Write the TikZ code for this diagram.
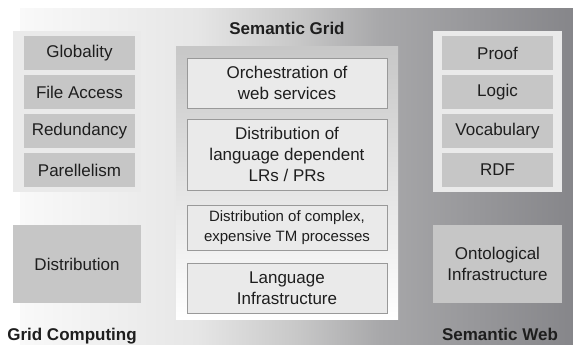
\documentclass[tikz,border=0pt]{standalone}
\usepackage{fontspec}
\setmainfont{Liberation Sans}
\definecolor{bgA}{HTML}{F9F9F9}
\definecolor{bgB}{HTML}{E6E6E6}
\definecolor{bgC}{HTML}{C8C8C8}
\definecolor{bgD}{HTML}{A8A8AA}
\definecolor{bgE}{HTML}{86868A}
\definecolor{cellgray}{HTML}{C6C6C6}
\definecolor{palegray}{HTML}{EAEAEA}
\definecolor{inkgray}{HTML}{1E1E1E}
\pgfdeclarehorizontalshading{bggrad}{100bp}{color(0bp)=(bgA); color(25bp)=(bgA); color(41bp)=(bgB); color(50bp)=(bgC); color(57.5bp)=(bgD); color(75bp)=(bgE); color(100bp)=(bgE)}
\begin{document}
\begin{tikzpicture}[x=1pt,y=-1pt,
  txt/.style={font=\fontsize{17}{21}\selectfont,text=inkgray,align=center,inner sep=0},
  head/.style={txt,font=\fontsize{17}{21}\selectfont\bfseries,anchor=base},
  frame/.style={fill=palegray,inner sep=0},
  cell/.style={txt,fill=cellgray,minimum width=111,minimum height=34},
  task/.style={txt,fill=palegray,draw=black!40,line width=.8pt,minimum width=200}]
\useasboundingbox (0,0) rectangle (573,345);
\shade[shading=bggrad] (20,9) rectangle (573,345);
% grid computing
\node[frame,minimum width=128,minimum height=161] (gcbox) at (77,111.5) {};
\foreach \t [count=\i] in {Globality,File Access,Redundancy,Parellelism}
  \node[cell] (gc\i) at (79.5,14+39*\i) {\t};
\node[cell,minimum width=128,minimum height=78] (dist) at (77,264) {Distribution};
\node[head] (gclbl) at (72,340) {Grid Computing};
% semantic web
\node[frame,minimum width=129,minimum height=161] (swbox) at (497.5,111.5) {};
\foreach \t [count=\i] in {Proof,Logic,Vocabulary,RDF}
  \node[cell] (sw\i) at (497.5,14+39*\i) {\t};
\node[cell,minimum width=129,minimum height=78] (onto) at (497.5,264) {Ontological\\Infrastructure};
\node[head] (swlbl) at (500,340) {Semantic Web};
% semantic grid
\node[head] (sglbl) at (287,35) {Semantic Grid};
\node[shade,top color=black!22,bottom color=white,minimum width=222,minimum height=272,inner sep=0] (sgpanel) at (287,183) {};
\node[task,minimum height=50] (orch) at (287,83) {Orchestration of\\web services};
\node[task,minimum height=71] (lrpr) at (287,154.5) {Distribution of\\language dependent\\LRs / PRs};
\node[task,minimum height=45,font=\fontsize{15}{20}\selectfont] (tmproc) at (287,227.5) {Distribution of complex,\\expensive TM processes};
\node[task,minimum height=50] (langinf) at (287,288) {Language\\Infrastructure};
\end{tikzpicture}
\end{document}
